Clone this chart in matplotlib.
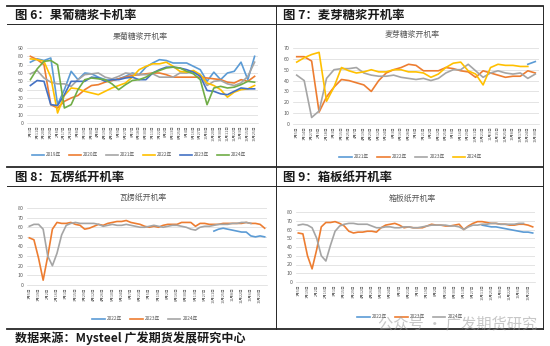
"""Operating rates for starch sugars and paper: four weekly line panels in a report grid.

Run it directly::

    python plot.py

The figure is written to out.png.
"""

import matplotlib

matplotlib.use("Agg")
import matplotlib.pyplot as plt
import numpy as np
from matplotlib.lines import Line2D

plt.rcParams["font.family"] = ["Noto Sans CJK SC", "DejaVu Sans"]

W, H = 550, 346
NA = None

# ---- 果葡糖浆开机率 ---------------------------------------------------------
GLUCOSE_DATES = [
    "1月1日", "1月11日", "1月20日", "1月29日", "2月8日", "2月17日", "2月26日",
    "3月8日", "3月19日", "3月30日", "4月8日", "4月19日", "4月29日", "5月9日",
    "5月27日", "6月7日", "6月18日", "6月30日", "7月11日", "7月22日", "8月2日",
    "8月13日", "8月25日", "9月4日", "9月16日", "9月27日", "10月8日", "10月20日",
    "10月30日", "11月11日", "11月22日", "12月3日", "12月15日", "12月25日",
]
GLUCOSE_YEARS = ["2019年", "2020年", "2021年", "2022年", "2023年", "2024年"]
glucose_2019 = [73, 77, 75, 78, 22, 40, 62, 52, 60, 59, 55, 52, 51, 53, 56, 60, 58,
                67, 72, 76, 75, 72, 72, 72, 68, 64, 50, 61, 52, 60, 62, 73, 52, 80]
glucose_2020 = [80, 76, 70, 22, 18, 26, 30, 33, 40, 45, 46, 49, 51, 53, 55, 57, 58,
                59, 60, 60, 58, 55, 55, 55, 55, 55, 54, 53, 52, 49, 48, 52, 50, 56]
glucose_2021 = [59, 63, 54, 49, 47, 47, 44, 52, 58, 59, 60, 55, 53, 56, 60, 59, 58,
                58, 59, 55, 55, 55, 60, 60, 62, 58, 45, 50, 51, 47, 45, 48, 56, 73]
glucose_2022 = [77, 76, 74, 55, 12, 33, 42, 41, 38, 36, 34, 38, 42, 45, 48, 55, 64,
                68, 71, 71, 73, 68, 62, 61, 63, 58, 48, 45, 40, 31, 37, 40, 41, 45]
glucose_2023 = [45, 51, 50, 22, 21, 34, 50, 50, 50, 55, 54, 50, 52, 52, 54, 55, 52,
                52, 60, 64, 67, 67, 66, 64, 61, 56, 39, 38, 35, 34, 38, 42, 41, 41]
glucose_2024 = [52, 65, 74, 75, 70, 18, 22, 40, 52, 54, 53, 52, 47, 40, 46, 51, 52,
                55, 60, 63, 66, 67, 66, 62, 59, 52, 22, 42, 44, 42, 43, 46, 50, 49]

# ---- 麦芽糖浆开机率 ---------------------------------------------------------
MALTOSE_DATES = [
    "1月5日", "1月14日", "1月27日", "2月9日", "2月18日", "3月3日", "3月15日",
    "3月25日", "4月7日", "4月19日", "4月29日", "5月12日", "5月24日", "6月3日",
    "6月16日", "6月28日", "7月8日", "7月21日", "8月2日", "8月12日", "8月25日",
    "9月6日", "9月16日", "9月29日", "10月11日", "10月21日", "11月3日", "11月15日",
    "11月25日", "12月8日", "12月17日", "12月24日", "12月30日",
]
MALTOSE_YEARS = ["2021年", "2022年", "2023年", "2024年"]
maltose_2021 = [NA] * 31 + [55, 57.5]
maltose_2022 = [62, 62, 58, 11, 25, 34, 41, 40, 38, 36, 30, 40, 47, 50, 52, 55, 54,
                49, 49, 49, 52, 51, 49, 48, 43, 49, 47, 45, 43, 44, 44, 49, 47]
maltose_2023 = [45, 40, 6, 12, 42, 50, 51, 51, 52, 47, 45, 44, 44, 45, 43, 42, 41,
                42, 40, 42, 47, 50, 50, 55, 49, 43, 47, 49, 47, 46, 47, 42, 46]
maltose_2024 = [57, 61, 64, 66, 21, 34, 52, 49, 47, 48, 50, 48, 48, 50, 50, 48, 48,
                47, 43, 46, 52, 56, 57, 49, 46, 36, 52, 55, 54, 54, 53, 53, NA]

# ---- 瓦楞纸 / 箱板纸开机率 (weekly) -----------------------------------------
PAPER_DATES = [
    "1月5日", "1月19日", "2月2日", "2月16日", "3月1日", "3月15日", "3月29日",
    "4月12日", "4月26日", "5月10日", "5月24日", "6月7日", "6月21日", "7月5日",
    "7月19日", "8月2日", "8月16日", "8月30日", "9月13日", "9月27日", "10月11日",
    "10月25日", "11月8日", "11月22日", "12月6日", "12月20日",
]
PAPER_YEARS = ["2022年", "2023年", "2024年"]

corrugated_2022 = [NA] * 40 + [56, 58, 59, 58, 57, 56, 55, 55, 51, 50, 51, 50]
corrugated_2023 = [49, 47, 28, 5, 30, 58, 65, 64, 64, 65, 63, 62, 58, 59, 61, 63, 62,
                   64, 65, 66, 66, 67, 65, 64, 63, 61, 60, 61, 60, 62, 63, 63, 63, 65,
                   65, 65, 61, 64, 64, 63, 63, 63, 64, 64, 64, 64, 64, 65, 64, 64, 63, 59]
corrugated_2024 = [61, 63, 63, 58, 30, 20, 33, 52, 62, 64, 65, 64, 64, 64, 64, 63, 61,
                   62, 63, 62, 62, 63, 62, 61, 60, 60, 61, 62, 61, 60, 61, 62, 62, 61,
                   60, 58, 57, 60, 61, 61, 62, 63, 63, 63, 64, 64, 65, 65, 64, NA, NA, NA]

boxboard_2022 = [NA] * 40 + [65, 64, 63, 63, 62, 61, 60, 59, 58, 57, 57, 56]
boxboard_2023 = [56, 55, 30, 15, 37, 63, 68, 68, 69, 67, 64, 58, 56, 57, 57, 58, 58,
                 57, 62, 65, 66, 67, 65, 62, 63, 62, 62, 62, 64, 66, 65, 65, 64, 64,
                 65, 66, 60, 64, 67, 69, 69, 68, 67, 67, 66, 66, 65, 65, 66, 66, 65, 63]
boxboard_2024 = [65, 66, 65, 62, 50, 30, 24, 42, 58, 64, 66, 67, 67, 66, 66, 66, 64,
                 62, 62, 63, 63, 62, 62, 63, 63, 62, 62, 63, 64, 65, 65, 65, 65, 64,
                 64, 63, 60, 63, 65, 65, 66, 66, 67, 67, 66, 66, 66, 66, 67, 67, NA, NA]

# Office-style series colours, in legend order
LIGHT_BLUE, ORANGE, GREY, GOLD, BLUE, GREEN = (
    "#5B9BD5", "#ED7D31", "#A5A5A5", "#FFC000", "#4472C4", "#70AD47")

TEXT_GREY = "#595959"
GRID_GREY = "#D9D9D9"


def frac_box(left, top, right, bottom):
    """Pixel box (top-left origin) -> figure-fraction [l, b, w, h]."""
    return [left / W, 1 - bottom / H, (right - left) / W, (bottom - top) / H]


def hline(fig, y, x0, x1, lw):
    fig.add_artist(Line2D([x0 / W, x1 / W], [1 - y / H, 1 - y / H],
                          color="#262626", lw=lw, transform=fig.transFigure))


def vline(fig, x, y0, y1, lw):
    fig.add_artist(Line2D([x / W, x / W], [1 - y0 / H, 1 - y1 / H],
                          color="#262626", lw=lw, transform=fig.transFigure))


def line_panel(fig, box, title, title_xy, series, names, colors, ymax,
               labels, label_step, legend_xy, col_space):
    ax = fig.add_axes(frac_box(*box))
    n = len(series[0])
    x = np.arange(n)
    for values, name, color in zip(series, names, colors):
        ax.plot(x, np.array(values, dtype=float), color=color, lw=1.2,
                label=name, solid_joinstyle="round")

    ax.set_xlim(-0.5, n - 0.5)
    ax.set_ylim(0, ymax)
    ax.set_yticks(np.arange(0, ymax + 1, 10))
    ax.set_xticks(x[::label_step])
    ax.set_xticklabels(labels, rotation=90, fontsize=2.7, color=TEXT_GREY)
    ax.tick_params(axis="y", labelsize=3.8, labelcolor=TEXT_GREY, length=0, pad=2.5)
    ax.tick_params(axis="x", length=0, pad=1.5)
    ax.grid(axis="y", color=GRID_GREY, lw=0.5)
    ax.set_axisbelow(True)
    for side in ("top", "right", "left"):
        ax.spines[side].set_visible(False)
    ax.spines["bottom"].set_color(GRID_GREY)
    ax.spines["bottom"].set_linewidth(0.5)
    ax.set_facecolor("none")

    fig.text(title_xy[0] / W, 1 - title_xy[1] / H, title, ha="center",
             va="center", fontsize=5.7, color=TEXT_GREY)
    ax.legend(loc="center", bbox_to_anchor=(legend_xy[0] / W, 1 - legend_xy[1] / H),
              bbox_transform=fig.transFigure, ncol=len(names), frameon=False,
              fontsize=3.4, handlelength=2.6, handletextpad=0.4,
              columnspacing=col_space, labelcolor=TEXT_GREY)
    return ax


def main():
    fig = plt.figure(figsize=(W / 100, H / 100), dpi=100)

    # report grid
    hline(fig, 6, 7, 543, 1.3)
    hline(fig, 24, 7, 543, 0.7)
    hline(fig, 167, 7, 543, 1.3)
    hline(fig, 186, 7, 543, 0.7)
    hline(fig, 329, 7, 543, 1.3)
    vline(fig, 276, 6, 329, 0.7)
    vline(fig, 543, 6, 329, 0.7)

    heads = [(15, 15, "图 6：果葡糖浆卡机率"), (283, 15, "图 7：麦芽糖浆开机率"),
             (15, 177, "图 8：瓦楞纸开机率"), (283, 177, "图 9：箱板纸开机率")]
    for x, y, text in heads:
        fig.text(x / W, 1 - y / H, text, ha="left", va="center",
                 fontsize=8.9, fontweight="bold", color="#1a1a1a")

    line_panel(fig, (27, 48, 258, 123), "果葡糖浆开机率", (140, 36),
               [glucose_2019, glucose_2020, glucose_2021, glucose_2022,
                glucose_2023, glucose_2024],
               GLUCOSE_YEARS, [LIGHT_BLUE, ORANGE, GREY, GOLD, BLUE, GREEN],
               90, GLUCOSE_DATES, 1, (139, 155), 1.6)

    line_panel(fig, (293, 48, 539, 124), "麦芽糖浆开机率", (412, 34),
               [maltose_2021, maltose_2022, maltose_2023, maltose_2024],
               MALTOSE_YEARS, [LIGHT_BLUE, ORANGE, GREY, GOLD],
               70, MALTOSE_DATES, 1, (411, 157), 1.8)

    line_panel(fig, (27, 208, 267, 285), "瓦楞纸开机率", (143, 197),
               [corrugated_2022, corrugated_2023, corrugated_2024],
               PAPER_YEARS, [LIGHT_BLUE, ORANGE, GREY],
               80, PAPER_DATES, 2, (145, 319), 1.8)

    line_panel(fig, (296, 212, 535, 282), "箱板纸开机率", (412, 198),
               [boxboard_2022, boxboard_2023, boxboard_2024],
               PAPER_YEARS, [LIGHT_BLUE, ORANGE, GREY],
               80, PAPER_DATES, 2, (410, 317), 1.8)

    fig.text(15 / W, 1 - 338 / H, "数据来源：Mysteel 广发期货发展研究中心",
             ha="left", va="center", fontsize=8.7, fontweight="bold", color="#1a1a1a")

    # channel watermark laid over the last legend
    fig.text(378 / W, 1 - 324 / H, "公众号 · 广发期货研究", ha="left", va="center",
             fontsize=11, color="#9a9a9a", alpha=0.55)

    fig.savefig("out.png", dpi=100)


if __name__ == "__main__":
    main()
